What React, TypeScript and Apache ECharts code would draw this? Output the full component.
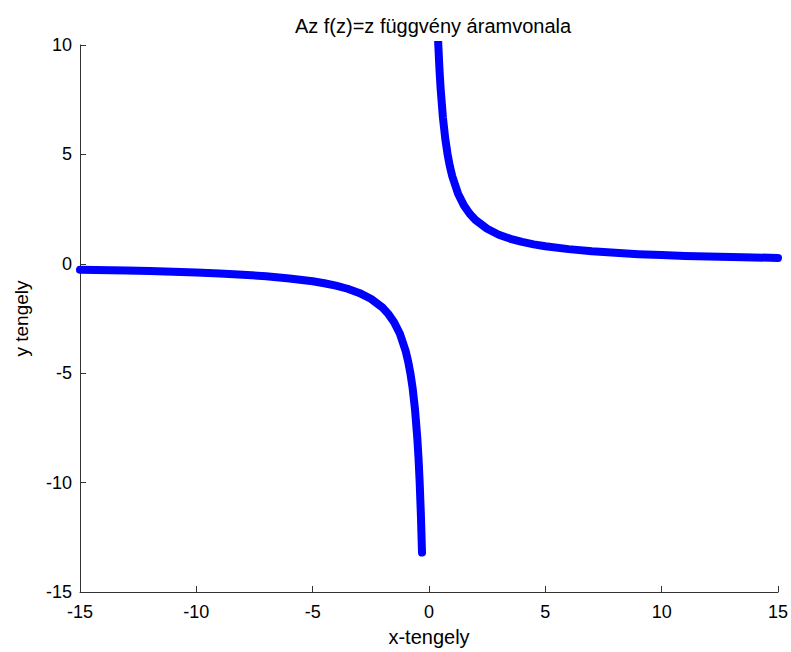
import React, { useEffect, useRef } from "react";
import * as echarts from "echarts";

const titleText = "Az f(z)=z függvény áramvonala";
const xName = "x-tengely";
const yName = "y tengely";

// negative branch (x < 0)
const negX = [-15, -13, -12, -11, -10, -9, -8, -7, -6, -5, -4.5, -4, -3.5, -3, -2.5, -2, -1.75, -1.5, -1.25, -1, -0.9, -0.8, -0.7, -0.6, -0.5, -0.45, -0.4, -0.35, -0.3];
const negY = [-0.27, -0.31, -0.33, -0.36, -0.4, -0.44, -0.5, -0.57, -0.67, -0.8, -0.89, -1.0, -1.14, -1.33, -1.6, -2.0, -2.29, -2.67, -3.2, -4.0, -4.44, -5.0, -5.71, -6.67, -8.0, -8.89, -10.0, -11.43, -13.2];
// positive branch (x > 0)
const posX = [0.3, 0.35, 0.4, 0.45, 0.5, 0.6, 0.7, 0.8, 0.9, 1, 1.25, 1.5, 1.75, 2, 2.5, 3, 3.5, 4, 4.5, 5, 6, 7, 8, 9, 10, 11, 12, 13, 15];
const posY = [13.33, 11.43, 10.0, 8.89, 8.0, 6.67, 5.71, 5.0, 4.44, 4.0, 3.2, 2.67, 2.29, 2.0, 1.6, 1.33, 1.14, 1.0, 0.89, 0.8, 0.67, 0.57, 0.5, 0.44, 0.4, 0.36, 0.33, 0.31, 0.27];

const xMin = -15, xMax = 15, xStep = 5;
const yMin = -15, yMax = 10, yStep = 5;

export default function App() {
  const ref = useRef<HTMLDivElement>(null);
  useEffect(() => {
    if (!ref.current) return;
    const chart = echarts.init(ref.current, null, { renderer: "svg" });
    const font = "'Liberation Sans', Arial, sans-serif";
    const axisColor = "#333333";
    const lineStyle = { color: "#0000ff", width: 8, cap: "round" as const, join: "round" as const };
    chart.setOption({
      animation: false,
      backgroundColor: "#ffffff",
      title: {
        text: titleText,
        left: 428,
        top: 11,
        textAlign: "center",
        textStyle: { fontFamily: font, fontSize: 20, fontWeight: "normal", color: "#000" },
      },
      grid: { left: 80, right: 13, top: 45, bottom: 59, containLabel: false },
      xAxis: {
        type: "value",
        min: xMin,
        max: xMax,
        interval: xStep,
        name: xName,
        nameLocation: "middle",
        nameGap: 35,
        nameTextStyle: { fontFamily: font, fontSize: 20, color: "#000" },
        axisLine: { show: true, onZero: false, lineStyle: { color: axisColor, width: 1 } },
        axisTick: { show: true, inside: true, length: 6, lineStyle: { color: axisColor } },
        axisLabel: { fontFamily: font, fontSize: 18, color: "#000", margin: 11 },
        splitLine: { show: false },
      },
      yAxis: {
        type: "value",
        min: yMin,
        max: yMax,
        interval: yStep,
        name: yName,
        nameLocation: "middle",
        nameGap: 49,
        nameTextStyle: { fontFamily: font, fontSize: 19, color: "#000" },
        axisLine: { show: true, onZero: false, lineStyle: { color: axisColor, width: 1 } },
        axisTick: { show: true, inside: true, length: 6, lineStyle: { color: axisColor } },
        axisLabel: { fontFamily: font, fontSize: 18, color: "#000", margin: 8 },
        splitLine: { show: false },
      },
      series: [
        {
          type: "line",
          data: negX.map((x, i) => [x, negY[i]]),
          showSymbol: false,
          smooth: false,
          clip: true,
          lineStyle,
        },
        {
          type: "line",
          data: posX.map((x, i) => [x, posY[i]]),
          showSymbol: false,
          smooth: false,
          clip: true,
          lineStyle,
        },
      ],
    });
    return () => chart.dispose();
  }, []);
  return <div ref={ref} style={{ width: 791, height: 652, position: "absolute", left: 0, top: 0 }} />;
}
